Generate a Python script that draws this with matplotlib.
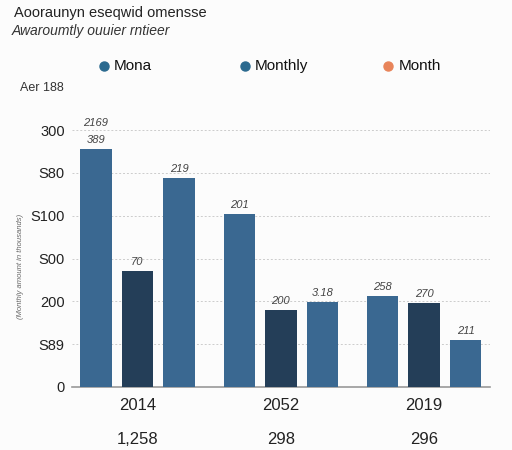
import matplotlib.pyplot as plt
from matplotlib.lines import Line2D
import numpy as np

plt.rcParams['font.family'] = ['Liberation Sans', 'DejaVu Sans']

# data
groups = ['2014', '2052', '2019']
group_totals = ['1,258', '298', '296']
mona = [278, 202, 106]
monthly = [135, 90, 98]
month = [244, 99, 55]
mona_labels = ['389', '201', '258']
monthly_labels = ['70', '200', '270']
month_labels = ['219', '3.18', '211']
ytick_vals = [0, 50, 100, 150, 200, 250, 300]
ytick_text = ['0', 'S89', '200', 'S00', 'S100', 'S80', '300']

c_mid = '#3a6891'
c_dark = '#243e58'
c_dot = '#2b6a8f'
c_orange = '#e8845a'

fig = plt.figure(figsize=(5.12, 4.5), dpi=100)
fig.patch.set_facecolor('#fcfcfc')
ax = fig.add_axes([0.14, 0.14, 0.817, 0.609])
ax.set_facecolor('#fcfcfc')

x = np.arange(len(groups))
off = 0.29
w = 0.22
b1 = ax.bar(x - off, mona, w, color=c_mid, zorder=3)
b2 = ax.bar(x, monthly, w, color=c_dark, zorder=3)
b3 = ax.bar(x + off, month, w, color=c_mid, zorder=3)

for bars, labs in [(b1, mona_labels), (b2, monthly_labels), (b3, month_labels)]:
    for b, t in zip(bars, labs):
        ax.text(b.get_x() + b.get_width() / 2, b.get_height() + 5, t,
                ha='center', va='bottom', fontsize=8, color='#444444',
                style='italic')
ax.text(b1[0].get_x() + w / 2, 303, '2169', ha='center', va='bottom',
        fontsize=8, color='#444444', style='italic')

ax.set_xlim(-0.46, 2.46)
ax.set_ylim(0, 320)
ax.set_yticks(ytick_vals)
ax.set_yticklabels(ytick_text)
ax.set_xticks(x)
ax.set_xticklabels(groups)
ax.tick_params(axis='y', length=0, labelsize=10.5, colors='#222222', pad=5)
ax.tick_params(axis='x', length=0, labelsize=12, colors='#222222', pad=8)
ax.grid(axis='y', color='#cccccc', linestyle=(0, (2, 2)), linewidth=0.7, zorder=0)
for s in ['top', 'right', 'left']:
    ax.spines[s].set_visible(False)
ax.spines['bottom'].set_color('#999999')
ax.spines['bottom'].set_linewidth(1.2)
ax.set_ylabel('(Monthly amount in thousands)', fontsize=5.5, color='#666666',
              style='italic', labelpad=2)
ax.yaxis.set_label_coords(-0.115, 0.44)

for xi, t in zip(x, group_totals):
    ax.text(xi, -0.19, t, transform=ax.get_xaxis_transform(), ha='center',
            va='center', fontsize=12, color='#222222')

fig.text(0.027, 0.972, 'Aooraunyn eseqwid omensse', fontsize=10.5,
         color='#222222', va='center')
fig.text(0.023, 0.931, 'Awaroumtly ouuier rntieer', fontsize=10,
         color='#333333', va='center', style='italic')
fig.text(0.039, 0.805, 'Aer 188', fontsize=9, color='#333333', va='center')

for xp, lab, col in [(0.203, 'Mona', c_dot), (0.478, 'Monthly', c_dot),
                     (0.758, 'Month', c_orange)]:
    fig.add_artist(Line2D([xp], [0.853], marker='o', markersize=6.5,
                          color=col, transform=fig.transFigure))
    fig.text(xp + 0.02, 0.853, lab, fontsize=11, color='#111111', va='center')

fig.savefig('out.png', dpi=100, facecolor=fig.get_facecolor())
